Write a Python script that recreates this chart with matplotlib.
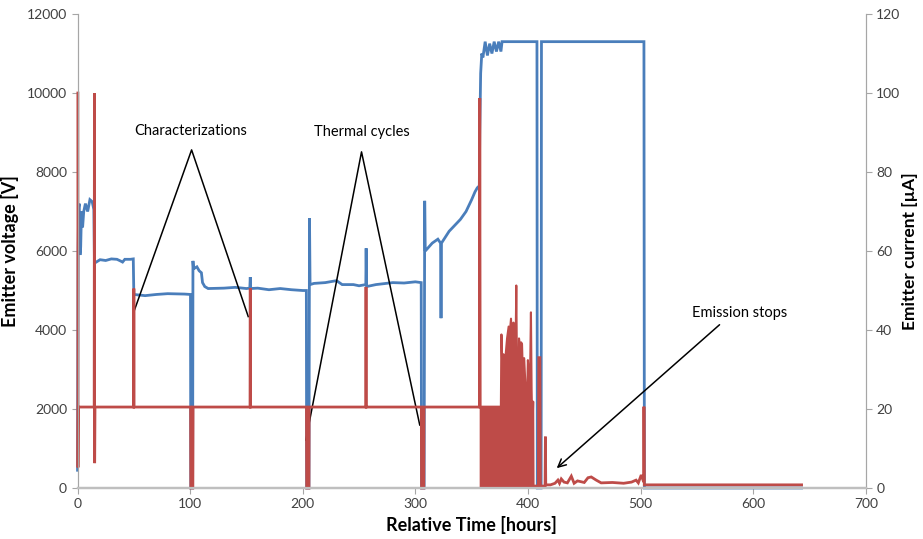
import numpy as np
import matplotlib
matplotlib.use("Agg")
import matplotlib.pyplot as plt

plt.rcParams['font.family'] = ['Lato', 'DejaVu Sans']

# emitter voltage [V] vs relative time [hours]
volt_t = [0, 0.5, 1, 1.5, 2.2, 2.8, 3.5, 4.5, 5.5, 7, 9, 11, 13, 14.5,
          15, 15.5, 20, 25, 30, 35, 38, 40, 42, 47, 49.5,
          50, 60, 70, 80, 95, 100.3,
          100.6, 102.2, 102.5, 103, 106, 108, 110, 111, 113, 116, 130, 140, 150, 153,
          153.4, 153.8, 160, 170, 180, 190, 200, 203.2,
          203.5, 205.5, 206, 206.5, 210, 220, 230, 235, 245, 250, 256,
          256.3, 256.7, 265, 280, 290, 300, 305.2,
          305.5, 307.8, 308.3, 308.8, 315, 320, 322.4, 322.8, 323.2, 330, 340, 345,
          350, 353, 355, 356.8,
          357.2, 358, 359, 360, 362, 364, 366, 368, 370, 372, 374, 376, 377,
          408, 408.3, 411.7, 412, 503, 503.4, 643]
volt_v = [450, 6000, 7100, 7200, 5900, 6100, 7000, 6600, 7000, 7200, 7000, 7300, 7250, 7050,
          5800, 5700, 5780, 5760, 5800, 5790, 5750, 5720, 5790, 5790, 5800,
          4900, 4870, 4900, 4920, 4910, 4900,
          0, 0, 5750, 5550, 5600, 5500, 5450, 5200, 5100, 5050, 5060, 5080, 5050, 5060,
          5340, 5050, 5060, 5020, 5050, 5020, 5000, 5000,
          0, 0, 6830, 5150, 5180, 5200, 5250, 5150, 5150, 5120, 5150,
          6070, 5100, 5150, 5200, 5190, 5220, 5200,
          0, 0, 7270, 6000, 6200, 6300, 6200, 4300, 6200, 6500, 6800, 7000,
          7300, 7500, 7600, 7650,
          9000, 10500, 11000, 10900, 11300, 10950, 11250, 11000, 11300, 11050, 11300, 11050, 11300,
          11300, 0, 0, 11300, 11300, 0, 0]

# emitter current [uA] vs relative time [hours]
curr_t = [0.3, 0.4, 0.7, 14.8, 15, 15.2, 15.5, 49.8, 50, 50.2,
          100.4, 100.6, 102.4, 102.6, 153.2, 153.4, 153.6,
          203.3, 203.5, 205.5, 205.7, 256, 256.2, 256.4,
          305.3, 305.5, 307.5, 307.7, 356.9, 357.2, 357.6,
          375.5, 404.5, 409.2, 409.6, 410.6, 411, 415.2, 415.5, 415.8,
          420, 424, 426.6, 428, 429.6, 432, 435, 438.5, 441, 444, 447,
          450, 453.3, 456.2, 460.6, 465, 475, 485, 492, 496, 498, 500.6,
          502.8, 503, 503.3, 643]
curr_v = [100, 5.2, 20.5, 20.5, 100, 6.3, 20.5, 20.5, 50.5, 20.5,
          20.5, 0, 0, 20.5, 20.5, 50.6, 20.5,
          20.5, 0, 0, 20.5, 20.5, 50.9, 20.5,
          20.5, 0, 0, 20.5, 20.5, 98.7, 20.5,
          20.5, 0.5, 0.5, 33, 33, 0.5, 0.5, 13, 0.8,
          0.8, 1.2, 2.0, 1.2, 2.3, 1.5, 1.3, 3.0, 1.2, 1.8, 1.6,
          1.4, 2.6, 2.8, 2.0, 1.3, 1.4, 1.2, 1.5, 2.0, 1.3, 3.3,
          1.5, 20.6, 0.8, 0.8]

# noisy emission period: upper envelope of the current oscillation [uA]
band_t = [357.6, 375.5, 376, 376.8, 377.8, 378.5, 379.5, 381, 382.4, 383,
          384.5, 385.2, 386, 386.7, 387.5, 388.5, 389.2, 389.8, 391, 391.6,
          392.5, 393, 393.5, 394.3, 395.3, 396.2, 397.5, 398.5, 399.5, 400.5,
          401.5, 402.2, 402.8, 403.5, 404.2, 404.5]
band_top = [20.5, 20.5, 39, 30, 34, 28, 33, 38, 41, 38,
            43, 38, 38, 42, 30, 34, 51.4, 30, 24.8, 38,
            36, 20, 37, 36.5, 26, 33, 25, 20, 32.5, 28,
            30, 44.6, 25, 14, 22, 0.5]

blue = '#4A7EBB'
red = '#BE4B48'
axis_grey = '#A6A6A6'
text_col = '#404040'

fig = plt.figure(figsize=(9.23, 5.39), dpi=100)
ax1 = fig.add_axes([0.084, 0.0946, 0.854, 0.8794])
ax2 = ax1.twinx()

ax1.plot(volt_t, volt_v, color=blue, lw=2.0, solid_joinstyle='miter', clip_on=False)
ax2.plot(curr_t, curr_v, color=red, lw=2.0, solid_joinstyle='miter', clip_on=False)
ax2.fill_between(band_t, 0.3, band_top, facecolor=red, edgecolor=red, lw=1.5)

ax1.set_xlim(0, 700)
ax1.set_ylim(0, 12000)
ax2.set_ylim(0, 120)
ax1.set_xticks(np.arange(0, 701, 100))
ax1.set_yticks(np.arange(0, 12001, 2000))
ax2.set_yticks(np.arange(0, 121, 20))

for ax in (ax1, ax2):
    ax.spines['top'].set_visible(False)
    ax.spines['left'].set_color(axis_grey)
    ax.spines['right'].set_color(axis_grey)
    ax.spines['bottom'].set_color('#BFBFBF')
    ax.spines['bottom'].set_linewidth(1.6)
    ax.tick_params(colors=axis_grey, labelcolor=text_col, labelsize=10, length=4)
ax1.set_zorder(1)
ax1.patch.set_visible(False)
ax2.set_zorder(2)

ax1.set_xlabel('Relative Time [hours]', fontsize=13, fontweight='bold', color='black', labelpad=4)
ax1.set_ylabel('Emitter voltage [V]', fontsize=13, fontweight='bold', color='black', labelpad=6)
ax2.set_ylabel('Emitter current [µA]', fontsize=12.5, fontweight='bold', color='black', labelpad=1)

# annotations
ax1.text(100.7, 9050, 'Characterizations', ha='center', va='center', fontsize=10.5, color='black')
ax1.plot([49.5, 101.3, 151.6], [4420, 8560, 4340], color='black', lw=1.1)
ax1.text(252.4, 9020, 'Thermal cycles', ha='center', va='center', fontsize=10.5, color='black')
ax1.plot([202.8, 252.2, 303.9], [1215, 8510, 1595], color='black', lw=1.1)
ax1.text(588, 4420, 'Emission stops', ha='center', va='center', fontsize=10.5, color='black')
ax1.annotate('', xy=(423.7, 456), xytext=(572, 4180),
             arrowprops=dict(arrowstyle='->', color='black', lw=1.1, mutation_scale=14))

fig.savefig('out.png', dpi=100)
